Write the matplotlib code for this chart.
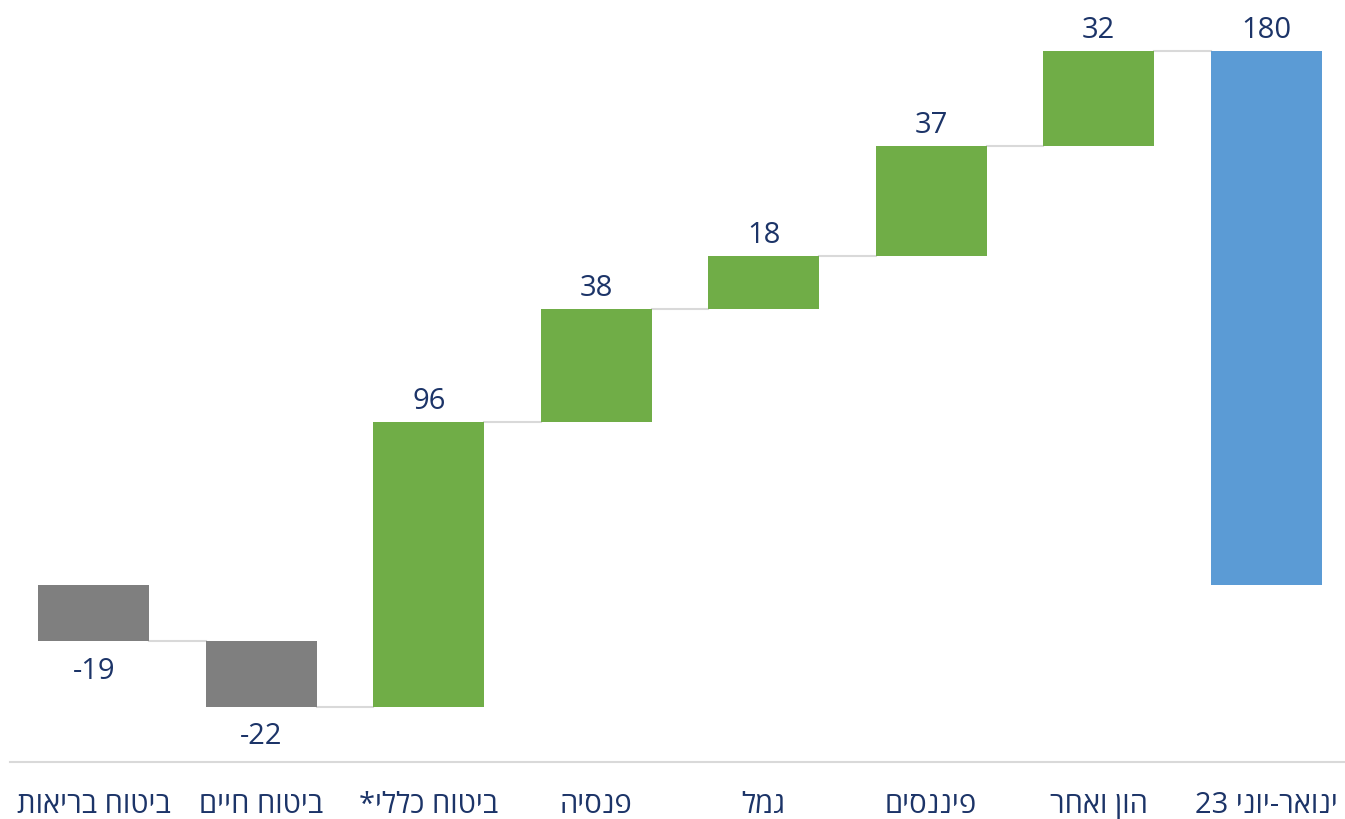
import numpy as np
import matplotlib.pyplot as plt

plt.rcParams['font.family'] = ['Open Sans', 'DejaVu Sans']

# Hebrew labels in logical order (reversed for display below)
categories = ['ביטוח בריאות', 'ביטוח חיים', 'ביטוח כללי*', 'פנסיה', 'גמל',
              'פיננסים', 'הון ואחר', 'ינואר-יוני']
total_suffix = '23'
changes = [-19, -22, 96, 38, 18, 37, 32]
total = 180

gray = '#7F7F7F'
green = '#70AD47'
blue = '#5B9BD5'
text_color = '#1C3468'
line_color = '#D9D9D9'


def visual(s):
    # matplotlib has no bidi support, so flip the Hebrew
    return s[::-1]


labels = [visual(c) for c in categories[:-1]]
labels.append(total_suffix + ' ' + visual(categories[-1]))

fig = plt.figure(figsize=(13.45, 8.2), dpi=100)
ax = fig.add_axes([10 / 1345, 57 / 820, 1340 / 1345, 755 / 820])

width = 0.662
x = np.arange(len(categories))

# waterfall steps
starts = np.concatenate([[0], np.cumsum(changes)[:-1]])
ends = np.cumsum(changes)
for i, (s, e, v) in enumerate(zip(starts, ends, changes)):
    col = green if v > 0 else gray
    ax.bar(x[i], e - s, bottom=s, width=width, color=col, zorder=2)
    if v > 0:
        ax.text(x[i], e + 2.5, f'{v}', ha='center', va='bottom',
                fontsize=21, color=text_color)
    else:
        ax.text(x[i], e - 4.8, f'{v}', ha='center', va='top',
                fontsize=21, color=text_color)

# total bar
ax.bar(x[-1], total, bottom=0, width=width, color=blue, zorder=2)
ax.text(x[-1], total + 2.5, f'{total}', ha='center', va='bottom',
        fontsize=21, color=text_color)

# connector lines
levels = list(ends)
for i in range(len(categories) - 1):
    ax.plot([x[i] + width / 2, x[i + 1] - width / 2], [levels[i], levels[i]],
            color=line_color, lw=1.5, zorder=1)

ax.set_xlim(-0.5, 7.5)
ax.set_ylim(-59.7, 195)
ax.set_yticks([])
ax.set_xticks(x)
ax.set_xticklabels(labels, fontsize=21, color=text_color)
ax.tick_params(axis='x', length=0, pad=20)
for side in ['top', 'right', 'left']:
    ax.spines[side].set_visible(False)
ax.spines['bottom'].set_color(line_color)
ax.spines['bottom'].set_linewidth(1.5)

fig.savefig('out.png', dpi=100)
